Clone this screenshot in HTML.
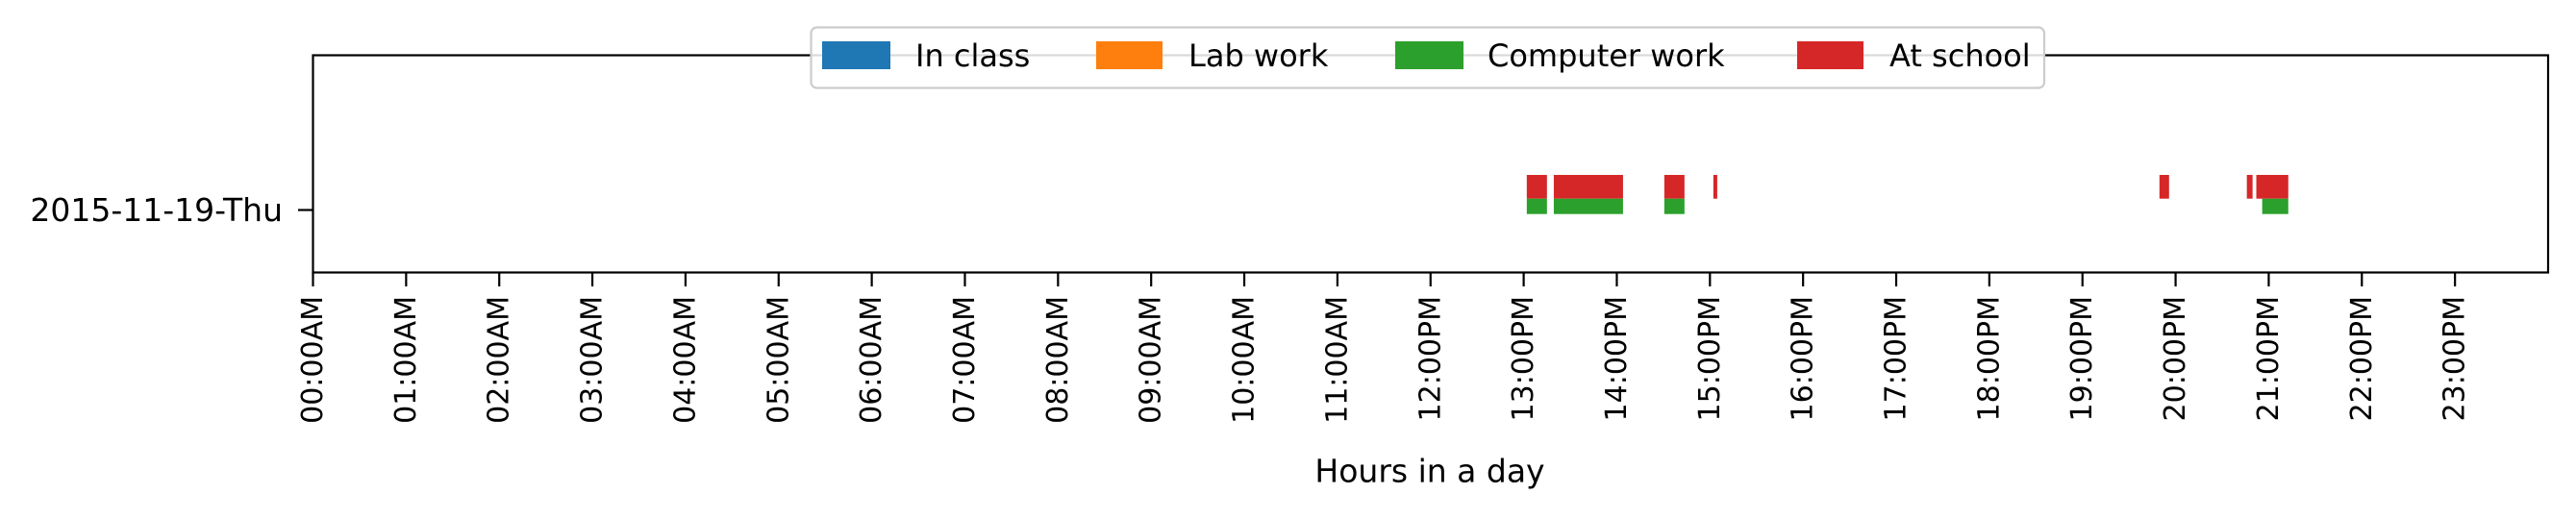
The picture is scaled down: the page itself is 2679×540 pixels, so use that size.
<!DOCTYPE html>
<html><head><meta charset="utf-8"><style>
html,body{margin:0;padding:0;background:#fff;}
svg{display:block;font-family:"DejaVu Sans","Liberation Sans",sans-serif;}
</style></head><body>
<svg id="chart" width="2679" height="540" viewBox="0 0 2679 540" xmlns="http://www.w3.org/2000/svg">
<rect x="0" y="0" width="2679" height="540" fill="#fff"/>
<g id="marks"></g>
<rect x="325.5" y="57.5" width="2324.5" height="226" fill="none" stroke="#000" stroke-width="2.2"/>
<g id="xticks"></g>
<line x1="310" y1="218.5" x2="325" y2="218.5" stroke="#000" stroke-width="2.2"/>
<text x="294" y="218.5" font-size="33" text-anchor="end" dominant-baseline="central">2015-11-19-Thu</text>
<text x="1487" y="490" font-size="33" text-anchor="middle" dominant-baseline="central">Hours in a day</text>
<g>
<rect x="843.5" y="28.5" width="1282.5" height="63" rx="6" fill="#fff" fill-opacity="0.85" stroke="#ccc" stroke-width="2.2"/>
<rect x="855" y="43" width="71" height="29" fill="#1f77b4"/>
<text x="952" y="58" font-size="32" dominant-baseline="central">In class</text>
<rect x="1140" y="43" width="69" height="29" fill="#ff7f0e"/>
<text x="1236" y="58" font-size="32" dominant-baseline="central">Lab work</text>
<rect x="1451" y="43" width="71" height="29" fill="#2ca02c"/>
<text x="1547" y="58" font-size="32" dominant-baseline="central">Computer work</text>
<rect x="1869" y="43" width="69" height="29" fill="#d62728"/>
<text x="1965" y="58" font-size="32" dominant-baseline="central">At school</text>
</g>
</svg>
<script>
// data (minutes since midnight)
const tickLabels = ["00:00AM","01:00AM","02:00AM","03:00AM","04:00AM","05:00AM","06:00AM","07:00AM","08:00AM","09:00AM","10:00AM","11:00AM","12:00PM","13:00PM","14:00PM","15:00PM","16:00PM","17:00PM","18:00PM","19:00PM","20:00PM","21:00PM","22:00PM","23:00PM"];
const schoolStarts = [782, 799.4, 870.6, 902.2, 1189.6, 1245.9, 1252];
const schoolEnds   = [795, 844, 883.6, 904.7, 1195.8, 1249.6, 1272.6];
const computerStarts = [782, 799.4, 870.6, 1255.8];
const computerEnds   = [795, 844, 883.6, 1272.6];
const classStarts = [];
const classEnds = [];
const labStarts = [];
const labEnds = [];

const NS = "http://www.w3.org/2000/svg";
const X0 = 325.5, X1 = 2650, MAXMIN = 1440;
function xScale(m){ return X0 + (m / MAXMIN) * (X1 - X0); }

const marks = document.getElementById('marks');
function drawSeries(starts, ends, y0, y1, color, name){
  for (let i = 0; i < starts.length; i++){
    const r = document.createElementNS(NS, 'rect');
    const a = xScale(starts[i]), b = xScale(ends[i]);
    r.setAttribute('x', a);
    r.setAttribute('y', y0);
    r.setAttribute('width', Math.max(b - a, 1));
    r.setAttribute('height', y1 - y0);
    r.setAttribute('fill', color);
    
    
    marks.appendChild(r);
  }
}
drawSeries(classStarts, classEnds, 206.7, 222.7, '#1f77b4', 'in-class-bar');
drawSeries(labStarts, labEnds, 206.7, 222.7, '#ff7f0e', 'lab-work-bar');
drawSeries(schoolStarts, schoolEnds, 182, 206.7, '#d62728', 'at-school-bar');
drawSeries(computerStarts, computerEnds, 206.7, 222.7, '#2ca02c', 'computer-work-bar');

const xt = document.getElementById('xticks');
for (let i = 0; i < tickLabels.length; i++){
  const x = xScale(i * 60);
  const l = document.createElementNS(NS, 'line');
  l.setAttribute('x1', x); l.setAttribute('x2', x);
  l.setAttribute('y1', 283); l.setAttribute('y2', 298);
  l.setAttribute('stroke', '#000'); l.setAttribute('stroke-width', '2.2');
  
  
  xt.appendChild(l);
  const t = document.createElementNS(NS, 'text');
  t.setAttribute('transform', 'translate(' + x + ',308) rotate(-90)');
  t.setAttribute('text-anchor', 'end');
  t.setAttribute('dominant-baseline', 'central');
  t.setAttribute('font-size', '30');
  t.textContent = tickLabels[i];
  
  
  xt.appendChild(t);
}
</script>
</body></html>
